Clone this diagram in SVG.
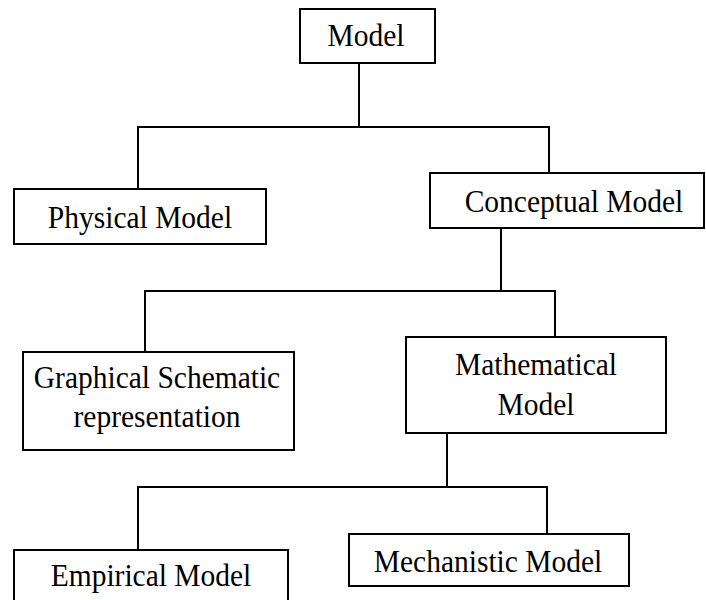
<svg xmlns="http://www.w3.org/2000/svg" width="706" height="600" viewBox="0 0 706 600">
<style>
.box{fill:#fff;stroke:#000;stroke-width:2}
.lbl{font-family:"Liberation Serif","Times New Roman",serif;font-size:29.5px;fill:#000;text-anchor:middle}
.con{fill:none;stroke:#000;stroke-width:2}
</style>
<rect width="706" height="600" fill="#fff"/>
<g id="connectors">
<path class="con" d="M359,63 V127 M138,189 V127 H549 V173"/>
<path class="con" d="M501,228 V291 M145,352 V291 H555 V337"/>
<path class="con" d="M447,433 V487 M138,550 V487 H547 V534"/>
</g>
<g id="model"><rect class="box" x="300" y="9" width="135" height="54"/><text class="lbl" transform="translate(366,46) scale(1,1.07)">Model</text></g>
<g id="physical"><rect class="box" x="14" y="189" width="252" height="55"/><text class="lbl" transform="translate(140,228) scale(1,1.07)">Physical Model</text></g>
<g id="conceptual"><rect class="box" x="430" y="173" width="274" height="55"/><text class="lbl" transform="translate(574,212) scale(1,1.07)">Conceptual Model</text></g>
<g id="graphical"><rect class="box" x="23" y="352" width="271" height="98"/><text class="lbl" transform="translate(157,388) scale(1,1.07)">Graphical Schematic</text><text class="lbl" transform="translate(157,427) scale(1,1.07)">representation</text></g>
<g id="mathematical"><rect class="box" x="406" y="337" width="260" height="96"/><text class="lbl" transform="translate(536,375) scale(1,1.07)">Mathematical</text><text class="lbl" transform="translate(536,415) scale(1,1.07)">Model</text></g>
<g id="empirical"><rect class="box" x="14" y="550" width="274" height="60"/><text class="lbl" transform="translate(151,586) scale(1,1.07)">Empirical Model</text></g>
<g id="mechanistic"><rect class="box" x="349" y="534" width="280" height="52"/><text class="lbl" transform="translate(488,572) scale(1,1.07)">Mechanistic Model</text></g>
</svg>
